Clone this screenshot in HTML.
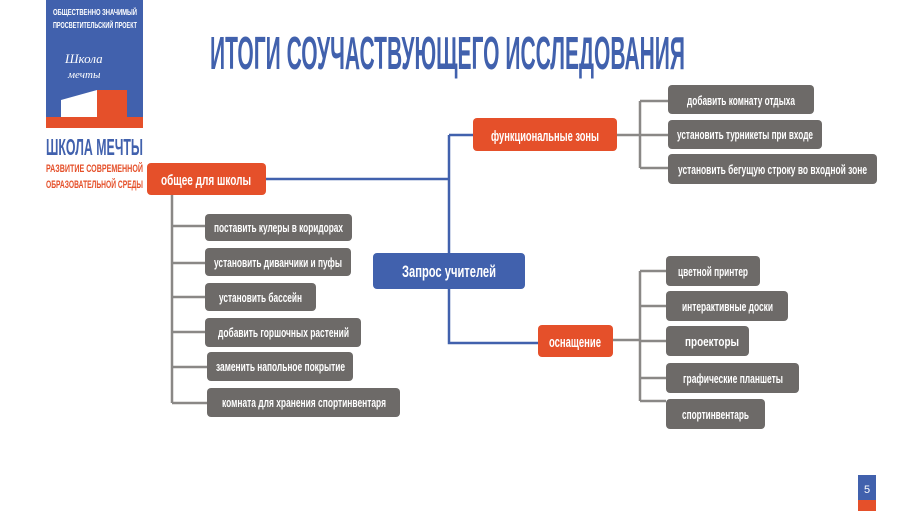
<!DOCTYPE html>
<html><head><meta charset="utf-8"><style>html,body{margin:0;padding:0;background:#fff;}svg{display:block}</style></head>
<body>
<svg width="900" height="511" viewBox="0 0 900 511" xmlns="http://www.w3.org/2000/svg" font-family="'Liberation Sans Narrow','Liberation Sans',sans-serif" font-weight="bold">
<rect width="900" height="511" fill="#fff"/>
<!-- logo -->
<rect x="46" y="0" width="97" height="128" fill="#4161ad"/>
<rect x="46" y="117" width="97" height="11" fill="#e5502a"/>
<polygon points="61,117 61,100 97,90 97,117" fill="#fff"/>
<polygon points="97,90 127,90 127,117 97,117" fill="#e5502a"/>
<text x="53" y="15" font-size="8" fill="#fff" textLength="84" lengthAdjust="spacingAndGlyphs">ОБЩЕСТВЕННО ЗНАЧИМЫЙ</text>
<text x="53" y="28" font-size="8" fill="#fff" textLength="84" lengthAdjust="spacingAndGlyphs">ПРОСВЕТИТЕЛЬСКИЙ ПРОЕКТ</text>
<text x="65" y="63" font-size="13" font-style="italic" font-weight="normal" fill="#fff" font-family="'Liberation Serif',serif">Школа</text>
<text x="68" y="78" font-size="11" font-style="italic" font-weight="normal" fill="#fff" font-family="'Liberation Serif',serif">мечты</text>
<text x="46" y="155" font-size="23" fill="#4161ad" textLength="97" lengthAdjust="spacingAndGlyphs">ШКОЛА МЕЧТЫ</text>
<text x="46" y="172" font-size="11" fill="#e5502a" textLength="97" lengthAdjust="spacingAndGlyphs">РАЗВИТИЕ СОВРЕМЕННОЙ</text>
<text x="46" y="188" font-size="11" fill="#e5502a" textLength="97" lengthAdjust="spacingAndGlyphs">ОБРАЗОВАТЕЛЬНОЙ СРЕДЫ</text>
<!-- title -->
<text x="210" y="69" font-size="46" fill="#4161ad" textLength="475" lengthAdjust="spacingAndGlyphs">ИТОГИ СОУЧАСТВУЮЩЕГО ИССЛЕДОВАНИЯ</text>
<!-- blue connectors -->
<g stroke="#4161ad" stroke-width="2.5" fill="none">
<path d="M266 179 H449"/>
<path d="M449 135 V343 H538"/>
<path d="M449 135 H473"/>
</g>
<!-- gray connectors -->
<g stroke="#8a8886" stroke-width="2.5" fill="none">
<path d="M172 195 V403"/>
<path d="M172 226 H205 M172 263 H205 M172 297 H205 M172 332 H205 M172 367 H207 M172 403 H207"/>
<path d="M617 135 H640 M640 101 V168 M640 101 H668 M640 135 H668 M640 168 H668"/>
<path d="M613 340 H640 M640 271 V401 M640 271 H666 M640 306 H666 M640 341 H666 M640 378 H666 M640 401 H666"/>
</g>
<!-- nodes -->
<g>
<rect x="147" y="163" width="119" height="32" rx="4" fill="#e5502a"/>
<text x="206" y="185" font-size="15" fill="#fff" text-anchor="middle" textLength="90" lengthAdjust="spacingAndGlyphs">общее для школы</text>
<rect x="473" y="118" width="144" height="33" rx="4" fill="#e5502a"/>
<text x="545" y="141" font-size="15" fill="#fff" text-anchor="middle" textLength="108" lengthAdjust="spacingAndGlyphs">функциональные зоны</text>
<rect x="373" y="253" width="152" height="36" rx="4" fill="#4161ad"/>
<text x="449" y="277" font-size="17" fill="#fff" text-anchor="middle" textLength="94" lengthAdjust="spacingAndGlyphs">Запрос учителей</text>
<rect x="538" y="325" width="75" height="32" rx="4" fill="#e5502a"/>
<text x="575" y="347" font-size="15" fill="#fff" text-anchor="middle" textLength="52" lengthAdjust="spacingAndGlyphs">оснащение</text>
</g>
<g fill="#6d6a68">
<rect x="205" y="214" width="147" height="27" rx="4"/>
<rect x="205" y="248" width="146" height="28" rx="4"/>
<rect x="205" y="283" width="111" height="28" rx="4"/>
<rect x="205" y="318" width="156" height="29" rx="4"/>
<rect x="207" y="352" width="146" height="29" rx="4"/>
<rect x="207" y="388" width="193" height="29" rx="4"/>
<rect x="668" y="85" width="146" height="29" rx="4"/>
<rect x="668" y="120" width="154" height="29" rx="4"/>
<rect x="668" y="154" width="209" height="30" rx="4"/>
<rect x="666" y="256" width="94" height="30" rx="4"/>
<rect x="666" y="291" width="122" height="30" rx="4"/>
<rect x="666" y="326" width="83" height="30" rx="4"/>
<rect x="666" y="363" width="133" height="30" rx="4"/>
<rect x="666" y="399" width="99" height="30" rx="4"/>
</g>
<g fill="#fff" font-size="13">
<text x="214" y="232" textLength="129" lengthAdjust="spacingAndGlyphs">поставить кулеры в коридорах</text>
<text x="214" y="267" textLength="128" lengthAdjust="spacingAndGlyphs">установить диванчики и пуфы</text>
<text x="219" y="302" textLength="83" lengthAdjust="spacingAndGlyphs">установить бассейн</text>
<text x="218" y="337" textLength="131" lengthAdjust="spacingAndGlyphs">добавить горшочных растений</text>
<text x="216" y="371" textLength="129" lengthAdjust="spacingAndGlyphs">заменить напольное покрытие</text>
<text x="222" y="407" textLength="164" lengthAdjust="spacingAndGlyphs">комната для хранения спортинвентаря</text>
<text x="687" y="105" textLength="108" lengthAdjust="spacingAndGlyphs">добавить комнату отдыха</text>
<text x="677" y="139" textLength="136" lengthAdjust="spacingAndGlyphs">установить турникеты при входе</text>
<text x="678" y="174" textLength="189" lengthAdjust="spacingAndGlyphs">установить бегущую строку во входной зоне</text>
<text x="678" y="276" textLength="70" lengthAdjust="spacingAndGlyphs">цветной принтер</text>
<text x="682" y="311" textLength="91" lengthAdjust="spacingAndGlyphs">интерактивные доски</text>
<text x="685" y="346" textLength="54" lengthAdjust="spacingAndGlyphs">проекторы</text>
<text x="683" y="383" textLength="100" lengthAdjust="spacingAndGlyphs">графические планшеты</text>
<text x="682" y="419" textLength="67" lengthAdjust="spacingAndGlyphs">спортинвентарь</text>
</g>
<!-- page number -->
<rect x="858" y="475" width="18" height="25" fill="#4161ad"/>
<rect x="858" y="500" width="18" height="11" fill="#e5502a"/>
<text x="864" y="493" font-size="11" font-weight="normal" fill="#fff">5</text>
</svg>
</body></html>
